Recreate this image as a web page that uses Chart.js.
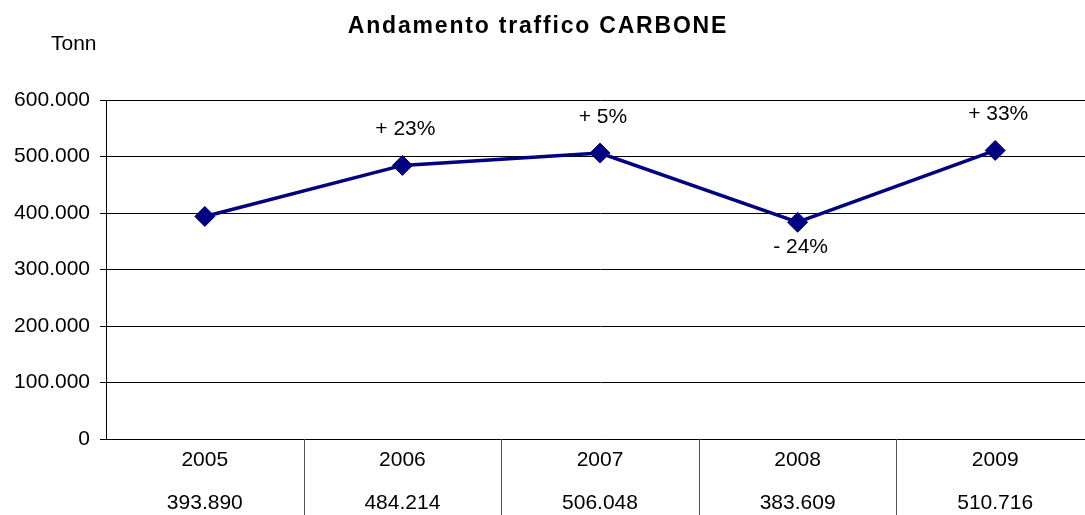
<!DOCTYPE html>
<html>
<head>
<meta charset="utf-8">
<script src="https://cdn.jsdelivr.net/npm/chart.js@4"></script>
<style>
  html, body { margin: 0; padding: 0; background: #fff; overflow: hidden; }
  #wrap { width: 1085px; height: 515px; overflow: hidden; }
  canvas { display: block; }
</style>
</head>
<body>
<div id="wrap"><canvas id="c" width="1094" height="515"></canvas></div>
<script>
const titleText = 'Andamento traffico CARBONE';
const unitText = 'Tonn';
const years = ['2005', '2006', '2007', '2008', '2009'];
const tonnes = [393890, 484214, 506048, 383609, 510716];
const changeLabels = ['', '+ 23%', '+ 5%', '- 24%', '+ 33%'];
const yMin = 0, yMax = 600000, yStep = 100000;

const FONT = '"Liberation Sans", Arial, sans-serif';
const fmt = v => String(Math.round(v)).replace(/\B(?=(\d{3})+(?!\d))/g, '.');

const textPlugin = {
  id: 'texts',
  afterDraw(chart) {
    const ctx = chart.ctx;
    ctx.save();
    ctx.fillStyle = '#000';
    ctx.textBaseline = 'middle';
    // title
    ctx.font = 'bold 23px ' + FONT;
    ctx.textAlign = 'center';
    try { ctx.letterSpacing = '1.8px'; } catch (e) {}
    ctx.fillText(titleText, 538, 27);
    try { ctx.letterSpacing = '0px'; } catch (e) {}
    // unit
    ctx.font = '21px ' + FONT;
    ctx.textAlign = 'left';
    ctx.fillText(unitText, 51, 44);
    // table separators
    const xs = chart.scales.x;
    const area = chart.chartArea;
    ctx.strokeStyle = '#555';
    ctx.lineWidth = 1;
    for (let i = 1; i < years.length; i++) {
      const x = Math.round((xs.getPixelForValue(i - 1) + xs.getPixelForValue(i)) / 2) + 0.5;
      ctx.beginPath();
      ctx.moveTo(x, area.bottom);
      ctx.lineTo(x, chart.height);
      ctx.stroke();
    }
    // change labels
    const meta = chart.getDatasetMeta(0);
    ctx.font = '21px ' + FONT;
    ctx.textAlign = 'center';
    meta.data.forEach((pt, i) => {
      const lbl = changeLabels[i];
      if (!lbl) return;
      const below = lbl.trim().startsWith('-');
      ctx.fillText(lbl, pt.x + 3, pt.y + (below ? 25 : -36));
    });
    ctx.restore();
  }
};

new Chart(document.getElementById('c'), {
  type: 'line',
  data: {
    labels: years,
    datasets: [{
      data: tonnes,
      borderColor: '#000080',
      backgroundColor: '#000080',
      borderWidth: 3.5,
      tension: 0,
      pointStyle: 'rectRot',
      pointRadius: 10,
      pointBorderWidth: 1,
      pointBorderColor: '#000080',
      pointBackgroundColor: '#000080'
    }]
  },
  options: {
    responsive: false,
    animation: false,
    devicePixelRatio: 1,
    layout: { autoPadding: false, padding: { top: 100, right: 0, left: 0, bottom: 0 } },
    plugins: {
      legend: { display: false },
      title: { display: false },
      tooltip: { enabled: false }
    },
    scales: {
      x: {
        type: 'category',
        offset: true,
        grid: { display: false, drawOnChartArea: false },
        border: { display: true, color: '#000', width: 1 },
        ticks: {
          color: '#000',
          font: { family: FONT, size: 21, lineHeight: 2.05 },
          padding: -8,
          maxRotation: 0,
          autoSkip: false,
          callback: (v, i) => [years[i], fmt(tonnes[i])]
        },
        afterFit: s => { s.height = 76; }
      },
      y: {
        min: yMin,
        max: yMax,
        ticks: {
          stepSize: yStep,
          color: '#000',
          font: { family: FONT, size: 21 },
          padding: 10,
          callback: v => fmt(v)
        },
        grid: { color: '#000', lineWidth: 1, drawTicks: true, tickLength: 6 },
        border: { display: true, color: '#000', width: 1 },
        afterFit: s => { s.width = 106; }
      }
    }
  },
  plugins: [textPlugin]
});
</script>
</body>
</html>
